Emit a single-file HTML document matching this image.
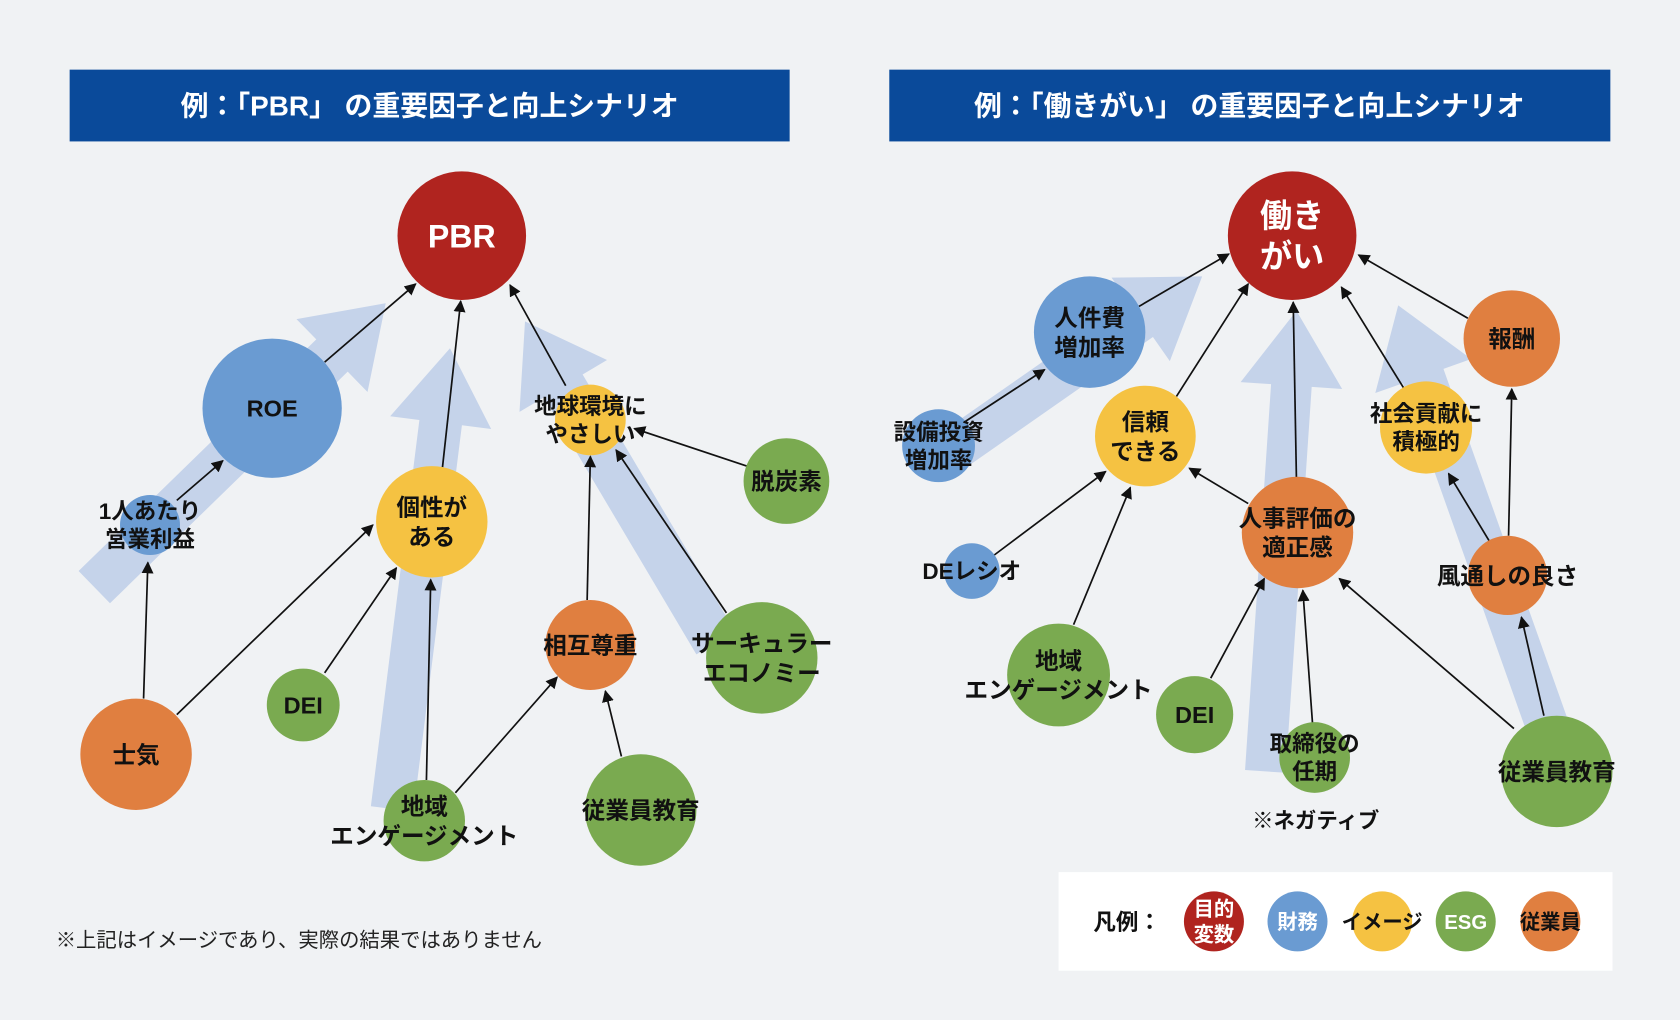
<!DOCTYPE html>
<html><head><meta charset="utf-8">
<style>
html,body{margin:0;padding:0;background:#f0f2f4;}
svg{display:block;}
text{font-family:"Liberation Sans","Noto Sans CJK JP",sans-serif;}
</style></head>
<body>
<svg id="s" width="1680" height="1020" viewBox="0 0 1568 952" xmlns="http://www.w3.org/2000/svg">
<defs>
<marker id="ah" viewBox="0 0 10 10" refX="9" refY="5" markerWidth="7" markerHeight="7" orient="auto"><path d="M0,0 L10,5 L0,10 z" fill="#111"/></marker>
</defs>
<rect width="1568" height="952" fill="#f0f2f4"/>
<rect x="65" y="65" width="672" height="67" fill="#0a4a9a"/>
<text x="401" y="108" fill="#fff" font-size="26" font-weight="bold" text-anchor="middle">例：「PBR」 の重要因子と向上シナリオ</text>
<rect x="830" y="65" width="673" height="67" fill="#0a4a9a"/>
<text x="1166" y="108" fill="#fff" font-size="26" font-weight="bold" text-anchor="middle">例：「働きがい」 の重要因子と向上シナリオ</text>
<rect x="988" y="814" width="517" height="92" fill="#fff"/>
<text x="1052" y="868" font-size="21" font-weight="bold" text-anchor="middle" fill="#111">凡例：</text>
<text x="52" y="884" font-size="19" fill="#222">※上記はイメージであり、実際の結果ではありません</text>
<text x="1228" y="773" font-size="20" font-weight="bold" text-anchor="middle" fill="#111">※ネガティブ</text>
<g id="big"></g><g id="lines"></g><g id="nodes"></g>
</svg>
<script>
const NS="http://www.w3.org/2000/svg";
function el(p,t,a,txt){const e=document.createElementNS(NS,t);for(const k in a)e.setAttribute(k,a[k]);if(txt)e.textContent=txt;document.getElementById(p).appendChild(e);return e;}
function big(x1,y1,x2,y2,sw,hw,hl){const dx=x2-x1,dy=y2-y1,L=Math.hypot(dx,dy),ux=dx/L,uy=dy/L,nx=-uy,ny=ux;
const bx=x2-ux*hl,by=y2-uy*hl;const p=[[x1+nx*sw/2,y1+ny*sw/2],[bx+nx*sw/2,by+ny*sw/2],[bx+nx*hw/2,by+ny*hw/2],[x2,y2],[bx-nx*hw/2,by-ny*hw/2],[bx-nx*sw/2,by-ny*sw/2],[x1-nx*sw/2,y1-ny*sw/2]];
el("big","polygon",{points:p.map(q=>q.join(",")).join(" "),fill:"#c5d3ea"});}
big(88,548,360,283,42,95,70);
big(366,755,420,325,40,95,70);
big(668,600,490,300,42,95,70);
big(873,432,1122,258,40,95,70);
big(1181,720,1210,290,38,95,70);
big(1445,680,1305,285,40,95,70);
const L=[[303,338,388,265],[165,467,208,430],[134,652,138,525],[165,667,348,490],[303,628,370,530],[398,728,402,541],[425,740,520,632],[413,436,430,281],[528,360,476,266],[548,560,551,426],[678,572,575,420],[697,435,592,400],[580,706,565,645],
[1063,286,1147,237],[900,394,975,345],[1098,370,1165,265],[928,518,1032,440],[1002,583,1055,455],[1165,470,1110,437],[1210,447,1207,282],[1130,633,1180,540],[1225,675,1216,551],[1413,680,1250,540],[1310,362,1252,268],[1370,297,1268,238],[1408,500,1411,363],[1390,505,1352,442],[1441,668,1420,576]];
L.forEach(l=>el("lines","line",{x1:l[0],y1:l[1],x2:l[2],y2:l[3],stroke:"#111","stroke-width":1.6,"marker-end":"url(#ah)"}));
const R="#b0241f",B="#6a9bd2",Y="#f5c242",G="#7aaa50",O="#e07f40";
const N=[[431,220,60,R,["PBR"],30,"#fff"],[254,381,65,B,["ROE"],22],[140,490,28,B,["1人あたり","営業利益"],21],[403,487,52,Y,["個性が","ある"],22],
[551,392,33,Y,["地球環境に","やさしい"],21],[734,449,40,G,["脱炭素"],22],[551,602,42,O,["相互尊重"],22],[711,614,52,G,["サーキュラー","エコノミー"],22],
[127,704,52,O,["士気"],22],[283,658,34,G,["DEI"],22],[396,766,38,G,["地域","エンゲージメント"],22],[598,756,52,G,["従業員教育"],22],
[1206,220,60,R,["働き","がい"],30,"#fff"],[1017,310,52,B,["人件費","増加率"],22],[876,416,34,B,["設備投資","増加率"],21],[1069,407,47,Y,["信頼","できる"],22],
[1211,497,52,O,["人事評価の","適正感"],22],[1411,316,45,O,["報酬"],22],[1331,399,43,Y,["社会貢献に","積極的"],21],[1407,537,37,O,["風通しの良さ"],22],
[907,533,26,B,["DEレシオ"],21],[988,630,48,G,["地域","エンゲージメント"],22],[1115,667,36,G,["DEI"],22],[1227,707,33,G,["取締役の","任期"],21],[1453,720,52,G,["従業員教育"],22],
[1133,860,28,R,["目的","変数"],19,"#fff"],[1211,860,28,B,["財務"],19,"#fff"],[1290,860,28,Y,["イメージ"],19],[1368,860,28,G,["ESG"],19,"#fff"],[1447,860,28,O,["従業員"],19]];
N.forEach(n=>el("nodes","circle",{cx:n[0],cy:n[1],r:n[2],fill:n[3]}));
N.forEach(n=>{const ls=n[4],fs=n[5],lh=fs*1.25;ls.forEach((t,i)=>{const y=n[1]+(i-(ls.length-1)/2)*lh+fs*0.36;
el("nodes","text",{x:n[0],y:y,"font-size":fs,"font-weight":"bold","text-anchor":"middle",fill:n[6]||"#111"},t);});});
</script>
</body></html>
